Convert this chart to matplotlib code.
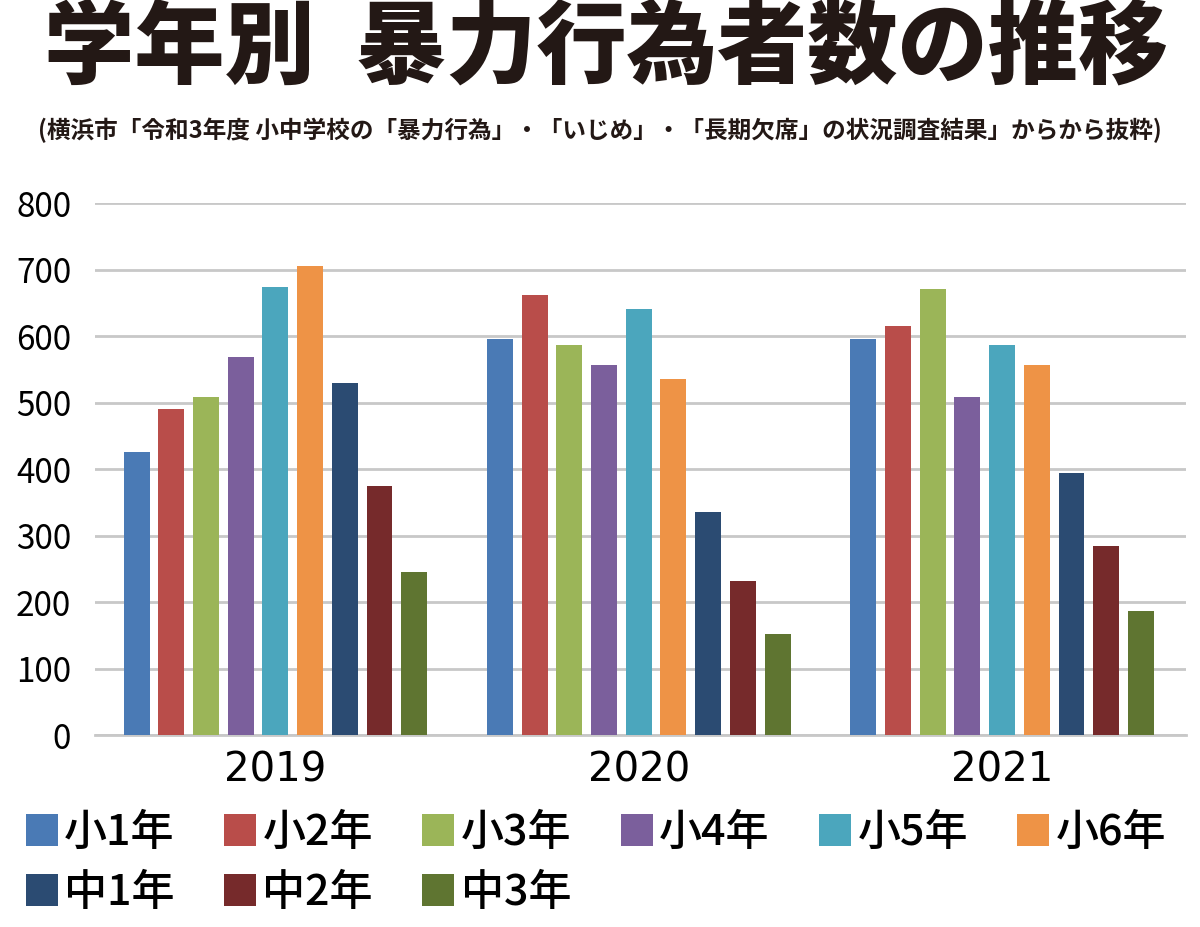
import matplotlib.pyplot as plt
import numpy as np
from matplotlib.patches import Patch

plt.rcParams['font.family'] = ['Noto Sans CJK JP', 'DejaVu Sans']

# values
years = ["2019", "2020", "2021"]
grades = ["小1年", "小2年", "小3年", "小4年", "小5年", "小6年", "中1年", "中2年", "中3年"]
counts = {
    "小1年": [425, 596, 595],
    "小2年": [490, 662, 615],
    "小3年": [508, 587, 671],
    "小4年": [568, 557, 509],
    "小5年": [674, 641, 586],
    "小6年": [705, 535, 556],
    "中1年": [529, 336, 394],
    "中2年": [375, 231, 284],
    "中3年": [245, 152, 187],
}
y_ticks = [0, 100, 200, 300, 400, 500, 600, 700, 800]

colors = ["#4a7ab5", "#b94d4a", "#9bb558", "#7b5f9c", "#4ba6bd",
          "#ee9346", "#2b4b72", "#762a2b", "#5f7531"]

fig = plt.figure(figsize=(12, 9.27), dpi=100)
ax = fig.add_axes([0.079, 0.207, 0.909, 0.574])

x = np.arange(len(years))
step = 0.0955
width = 0.0715
for i, g in enumerate(grades):
    ax.bar(x + (i - 4) * step, counts[g], width, color=colors[i], zorder=3)

ax.set_xlim(-0.497, 2.505)
ax.set_ylim(0, 800)
ax.set_yticks(y_ticks)
ax.set_yticklabels([str(v) for v in y_ticks], fontsize=24)
ax.set_xticks(x)
ax.set_xticklabels(years, fontsize=29, family='DejaVu Sans')
ax.tick_params(length=0)
ax.tick_params(axis='y', pad=17)
ax.tick_params(axis='x', pad=11)
ax.grid(axis='y', color='#c8c8c8', linewidth=2, zorder=0)
for s in ['top', 'right', 'left']:
    ax.spines[s].set_visible(False)
ax.spines['bottom'].set_color('#c8c8c8')
ax.spines['bottom'].set_linewidth(2)

fig.text(0.505, 0.947, "学年別  暴力行為者数の推移", ha='center', va='center',
         fontsize=65, fontweight='heavy', color='#231815')
fig.text(0.5, 0.859, "(横浜市「令和3年度 小中学校の「暴力行為」・「いじめ」・「長期欠席」の状況調査結果」からから抜粋)",
         ha='center', va='center', fontsize=17, fontweight='bold', color='#231815')

handles = [Patch(facecolor=c) for c in colors]
order = [0, 6, 1, 7, 2, 8, 3, 4, 5]
fig.legend([handles[i] for i in order], [grades[i] for i in order],
           ncol=6, loc='upper left', bbox_to_anchor=(0.0215, 0.125),
           frameon=False, handlelength=0.74, handleheight=0.74,
           handletextpad=0.15, columnspacing=1.15, labelspacing=0.39,
           borderaxespad=0, borderpad=0, prop={'size': 31, 'weight': 'medium'})

fig.savefig("out.png", dpi=100)
